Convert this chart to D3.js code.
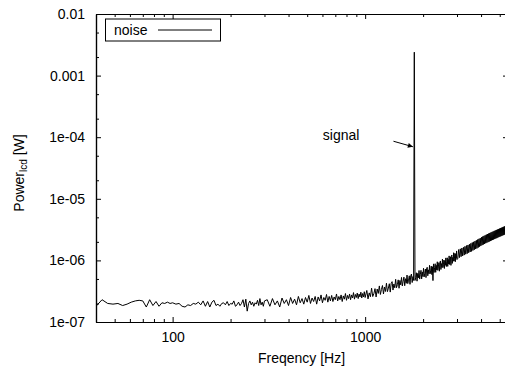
<!DOCTYPE html>
<html>
<head>
<meta charset="utf-8">
<script src="https://cdn.jsdelivr.net/npm/d3@7"></script>
<style>
  html, body { margin: 0; padding: 0; background: #fff; }
  svg { display: block; }
  text { font-family: "Liberation Sans", Arial, Helvetica, sans-serif; fill: #000; }
</style>
</head>
<body>
<svg id="chart" width="505" height="371"></svg>
<script>
// ---------- data ----------
const xTickValues = [100, 1000];
const xTickLabels = ["100", "1000"];
const xMinorTicks = [50, 60, 70, 80, 90, 200, 300, 400, 500, 600, 700, 800, 900, 2000, 3000, 4000, 5000];
const yTickValues = [1e-7, 1e-6, 1e-5, 1e-4, 1e-3, 1e-2];
const yTickLabels = ["1e-07", "1e-06", "1e-05", "1e-04", "0.001", "0.01"];
const yMinorTicks = [2e-7, 5e-7, 2e-6, 5e-6, 2e-5, 5e-5, 2e-4, 5e-4, 2e-3, 5e-3];
const xDomain = [40, 5520];
const yDomain = [1e-7, 1e-2];

const seriesName = "noise";
const noiseFreq = [
  40, 43, 46, 49, 52, 55, 58, 61, 64, 67, 70, 73, 76, 79, 82, 85, 88, 91, 94, 97, 100,
  104, 108, 112, 116, 120, 124, 128, 132, 136, 140, 144, 148, 152, 156, 160, 164, 168, 172, 176, 180,
  184, 188, 192, 196, 200, 204, 208, 212, 216, 220, 224, 228, 232, 236, 240, 244, 248, 252, 256, 260,
  264, 268, 272, 276, 280, 284, 288, 292, 296, 300,
  310, 320, 330, 340, 350, 360, 370, 380, 390, 400, 410, 420, 430, 440, 450, 460, 470, 480, 490, 500,
  510, 520, 530, 540, 550, 560, 570, 580, 590, 600, 610, 620, 630, 640, 650, 660, 670, 680, 690, 700,
  710, 720, 730, 740, 750, 760, 770, 780, 790, 800, 810, 820, 830, 840, 850, 860, 870, 880, 890, 900,
  910, 920, 930, 940, 950, 960, 970, 980, 990, 1000,
  1020, 1035, 1050, 1065, 1080, 1095, 1110, 1125, 1140, 1155, 1170, 1185, 1200, 1215, 1230, 1245,
  1260, 1275, 1290, 1305, 1320, 1335, 1350, 1365, 1380, 1395, 1410, 1425, 1440, 1455, 1470, 1485,
  1500, 1515, 1530, 1545, 1560, 1575, 1590, 1605, 1620, 1635, 1650, 1665, 1680, 1695, 1710, 1725,
  1740, 1755, 1770, 1785, 1800, 1815, 1830, 1845, 1860, 1875, 1890, 1905, 1920, 1935, 1950, 1965,
  1980, 1995, 2010, 2025, 2040, 2055, 2070, 2085, 2100, 2115, 2130, 2145, 2160, 2175, 2190, 2205,
  2220, 2235, 2250, 2265, 2280, 2295, 2310, 2325, 2340, 2355, 2370, 2385, 2400, 2415, 2430, 2445,
  2460, 2475, 2490, 2505, 2520, 2535, 2550, 2565, 2580, 2595, 2610, 2625, 2640, 2655, 2670, 2685,
  2700, 2715, 2730, 2745, 2760, 2775, 2790, 2805, 2820, 2835, 2850, 2865, 2880, 2895, 2910, 2925,
  2940, 2955, 2970, 2985, 3000,
  3030, 3060, 3090, 3120, 3150, 3180, 3210, 3240, 3270, 3300, 3330, 3360, 3390,
  3420, 3450, 3480, 3510, 3540, 3570, 3600, 3630, 3660, 3690, 3720, 3750, 3780, 3810, 3840, 3870,
  3900, 3930, 3960, 3990, 4020, 4050, 4080, 4110, 4140, 4170, 4200, 4230, 4260, 4290, 4320, 4350,
  4380, 4410, 4440, 4470, 4500, 4530, 4560, 4590, 4620, 4650, 4680, 4710, 4740, 4770, 4800, 4830,
  4860, 4890, 4920, 4950, 4980, 5010, 5040, 5070, 5100, 5130, 5160, 5190, 5220, 5250, 5280, 5310,
  5340, 5370, 5400, 5430, 5460, 5490, 5520
];
const noisePower = [
  1.8e-7, 2.3e-7, 2.0e-7, 1.95e-7, 2.0e-7, 1.85e-7, 1.95e-7, 2.1e-7, 2.2e-7, 2.25e-7, 2.2e-7,
  1.75e-7, 2.3e-7, 1.85e-7, 2.15e-7, 1.8e-7, 2.05e-7, 2.0e-7, 2.1e-7, 2.0e-7, 2.05e-7,
  1.95e-7, 2.0e-7, 1.8e-7, 1.75e-7, 1.9e-7, 1.85e-7, 2.0e-7, 1.95e-7, 2.1e-7, 1.9e-7,
  2.2e-7, 1.8e-7, 2.15e-7, 1.75e-7, 2.1e-7, 2.25e-7, 1.85e-7, 1.95e-7, 1.8e-7, 2.0e-7,
  2.05e-7, 1.9e-7, 2.15e-7, 1.85e-7, 2.0e-7, 1.95e-7, 2.2e-7, 1.8e-7, 1.9e-7, 2.1e-7,
  1.85e-7, 2.0e-7, 2.3e-7, 1.75e-7, 2.35e-7, 1.5e-7, 2.0e-7, 2.2e-7, 1.9e-7, 2.1e-7,
  1.8e-7, 2.05e-7, 1.95e-7, 2.25e-7, 1.85e-7, 2.4e-7, 1.9e-7, 2.1e-7, 1.8e-7, 2.2e-7,
  2.3e-7, 1.8e-7, 2.4e-7, 1.9e-7, 2.2e-7, 1.75e-7, 2.45e-7, 2.0e-7, 2.3e-7, 1.85e-7,
  2.5e-7, 2.0e-7, 2.35e-7, 1.9e-7, 2.6e-7, 2.05e-7, 2.4e-7, 1.95e-7, 2.5e-7, 2.1e-7,
  2.7e-7, 2.0e-7, 2.45e-7, 2.15e-7, 2.6e-7, 1.95e-7, 2.55e-7, 2.2e-7, 2.75e-7, 2.05e-7,
  2.5e-7, 2.25e-7, 2.8e-7, 2.1e-7, 2.6e-7, 2.2e-7, 2.7e-7, 2.15e-7, 2.55e-7, 2.3e-7,
  2.85e-7, 2.2e-7, 2.6e-7, 2.3e-7, 2.75e-7, 2.15e-7, 2.65e-7, 2.35e-7, 2.9e-7, 2.25e-7,
  2.7e-7, 2.4e-7, 2.85e-7, 2.3e-7, 2.75e-7, 2.45e-7, 3.0e-7, 2.35e-7, 2.8e-7, 2.5e-7,
  2.95e-7, 2.4e-7, 2.85e-7, 2.55e-7, 3.05e-7, 2.45e-7, 2.9e-7, 2.55e-7, 3.1e-7, 2.5e-7,
  3.25e-7, 2.37e-7, 2.97e-7, 2.57e-7, 3.54e-7, 2.59e-7, 2.89e-7, 3.48e-7, 2.55e-7, 3.43e-7,
  2.91e-7, 3.85e-7, 2.8e-7, 3.37e-7, 3.91e-7, 2.85e-7, 3.7e-7, 3.13e-7, 4.26e-7, 3.11e-7,
  3.55e-7, 4.18e-7, 3.06e-7, 4.23e-7, 4.52e-7, 3.3e-7, 4.14e-7, 3.59e-7, 4.93e-7, 3.6e-7,
  4.03e-7, 4.83e-7, 3.53e-7, 4.73e-7, 4.01e-7, 5.29e-7, 3.84e-7, 4.6e-7, 5.35e-7, 3.88e-7,
  5.04e-7, 4.25e-7, 5.78e-7, 4.2e-7, 4.78e-7, 5.62e-7, 4.09e-7, 5.64e-7, 6.01e-7, 4.37e-7,
  5.46e-7, 4.73e-7, 2.4e-3, 4.72e-7, 5.26e-7, 6.3e-7, 4.6e-7, 6.16e-7, 5.21e-7, 6.86e-7,
  4.97e-7, 5.96e-7, 6.9e-7, 5.01e-7, 6.5e-7, 5.47e-7, 7.44e-7, 5.4e-7, 6.15e-7, 7.24e-7,
  5.26e-7, 7.26e-7, 7.73e-7, 5.63e-7, 7.02e-7, 6.08e-7, 8.32e-7, 6.06e-7, 6.75e-7, 8.07e-7,
  5.89e-7, 7.9e-7, 4.7e-7, 8.78e-7, 6.36e-7, 7.63e-7, 8.83e-7, 6.4e-7, 8.32e-7, 7.0e-7,
  9.5e-7, 6.89e-7, 7.84e-7, 9.21e-7, 6.68e-7, 9.21e-7, 9.79e-7, 7.12e-7, 8.87e-7, 7.67e-7,
  1.049e-6, 7.64e-7, 8.49e-7, 1.014e-6, 7.39e-7, 9.88e-7, 8.34e-7, 1.098e-6, 7.95e-7, 9.52e-7,
  1.102e-6, 7.99e-7, 1.037e-6, 8.72e-7, 1.183e-6, 8.59e-7, 9.76e-7, 1.146e-6, 8.31e-7, 1.148e-6,
  1.225e-6, 8.94e-7, 1.118e-6, 9.71e-7, 1.332e-6, 9.73e-7, 1.085e-6, 1.303e-6, 9.51e-7, 1.276e-6,
  1.079e-6, 1.424e-6, 1.032e-6,
  1.08e-6, 1.5e-6, 1.11e-6,
  1.54e-6, 1.15e-6, 1.59e-6, 1.18e-6, 1.63e-6, 1.22e-6, 1.69e-6, 1.26e-6, 1.74e-6, 1.29e-6,
  1.78e-6, 1.33e-6, 1.83e-6, 1.37e-6, 1.89e-6, 1.4e-6, 1.95e-6, 1.45e-6, 2.0e-6, 1.49e-6,
  2.06e-6, 1.53e-6, 2.12e-6, 1.57e-6, 2.18e-6, 1.62e-6, 2.24e-6, 1.67e-6, 2.3e-6, 1.72e-6,
  2.38e-6, 1.77e-6, 2.44e-6, 1.81e-6, 2.5e-6, 1.85e-6, 2.56e-6, 1.9e-6, 2.62e-6, 1.94e-6,
  2.68e-6, 1.98e-6, 2.73e-6, 2.02e-6, 2.79e-6, 2.06e-6, 2.84e-6, 2.11e-6, 2.9e-6, 2.14e-6,
  2.95e-6, 2.18e-6, 3.01e-6, 2.23e-6, 3.06e-6, 2.27e-6, 3.12e-6, 2.3e-6, 3.17e-6, 2.35e-6,
  3.23e-6, 2.39e-6, 3.28e-6, 2.43e-6, 3.34e-6, 2.47e-6, 3.39e-6, 2.51e-6, 3.44e-6, 2.55e-6,
  3.5e-6, 2.58e-6, 3.56e-6, 2.63e-6, 3.6e-6, 2.66e-6, 3.65e-6, 2.69e-6, 3.69e-6, 2.71e-6,
  3.71e-6
];

const signalLabel = "signal";
const signalLabelPos = [603, 9.0e-5];
const signalArrowFrom = [1403, 8.6e-5];
const signalArrowTo = [1770, 7.0e-5];

const xTitle = "Freqency [Hz]";

// ---------- layout ----------
const svg = d3.select("#chart");
const mLeft = 96, mRight = 508, mTop = 14, mBottom = 322;
const x = d3.scaleLog().domain(xDomain).range([mLeft, mRight]);
const y = d3.scaleLog().domain(yDomain).range([mBottom, mTop]);
const FONT = 14;

const defs = svg.append("defs");
defs.append("clipPath").attr("id", "clip")
  .append("rect").attr("x", mLeft).attr("y", mTop).attr("width", mRight - mLeft).attr("height", mBottom - mTop);
defs.append("marker").attr("id", "arrowhead")
  .attr("viewBox", "0 0 10 10").attr("refX", 10).attr("refY", 5)
  .attr("markerWidth", 7).attr("markerHeight", 5).attr("markerUnits", "userSpaceOnUse")
  .attr("orient", "auto")
  .append("path").attr("d", "M0,0 L10,5 L0,10 z").attr("fill", "#000");

// axes: bottom / top
const gx = svg.append("g").attr("transform", `translate(0,${mBottom})`)
  .call(d3.axisBottom(x).tickValues(xTickValues).tickFormat((d, i) => xTickLabels[i])
    .tickSizeInner(-5).tickSizeOuter(0).tickPadding(10));
svg.append("g").attr("transform", `translate(0,${mBottom})`)
  .call(d3.axisBottom(x).tickValues(xMinorTicks).tickFormat("").tickSizeInner(-3).tickSizeOuter(0));
svg.append("g").attr("transform", `translate(0,${mTop})`)
  .call(d3.axisTop(x).tickValues(xTickValues).tickFormat("").tickSizeInner(-5).tickSizeOuter(0));
svg.append("g").attr("transform", `translate(0,${mTop})`)
  .call(d3.axisTop(x).tickValues(xMinorTicks).tickFormat("").tickSizeInner(-3).tickSizeOuter(0));

// axes: left / right
svg.append("g").attr("transform", `translate(${mLeft},0)`)
  .call(d3.axisLeft(y).tickValues(yTickValues).tickFormat((d, i) => yTickLabels[i])
    .tickSizeInner(-5).tickSizeOuter(0).tickPadding(11));
svg.append("g").attr("transform", `translate(${mLeft},0)`)
  .call(d3.axisLeft(y).tickValues(yMinorTicks).tickFormat("").tickSizeInner(-3).tickSizeOuter(0));
svg.append("g").attr("transform", `translate(${mRight},0)`)
  .call(d3.axisRight(y).tickValues(yTickValues).tickFormat("").tickSizeInner(-5).tickSizeOuter(0));
svg.append("g").attr("transform", `translate(${mRight},0)`)
  .call(d3.axisRight(y).tickValues(yMinorTicks).tickFormat("").tickSizeInner(-3).tickSizeOuter(0));

svg.selectAll(".domain").attr("stroke", "#000").attr("stroke-width", 1.2);
svg.selectAll(".tick line").attr("stroke", "#000").attr("stroke-width", 1);
svg.selectAll(".tick text").attr("font-size", FONT)
  .attr("font-family", '"Liberation Sans", Arial, sans-serif').attr("fill", "#000");
gx.selectAll(".tick text").attr("dy", "0.71em");

// data line
const pts = noiseFreq.map((f, i) => ({ f: f, p: noisePower[i] }));
svg.append("g").attr("clip-path", "url(#clip)")
  .append("path").datum(pts)
  .attr("fill", "none").attr("stroke", "#000").attr("stroke-width", 1)
  .attr("stroke-linejoin", "miter")
  .attr("d", d3.line().x(d => x(d.f)).y(d => y(d.p)));

// annotation
svg.append("text").attr("x", x(signalLabelPos[0])).attr("y", y(signalLabelPos[1]))
  .attr("font-size", FONT).text(signalLabel);
svg.append("line")
  .attr("x1", x(signalArrowFrom[0])).attr("y1", y(signalArrowFrom[1]))
  .attr("x2", x(signalArrowTo[0])).attr("y2", y(signalArrowTo[1]))
  .attr("stroke", "#000").attr("stroke-width", 1).attr("marker-end", "url(#arrowhead)");

// legend
const lg = svg.append("g");
lg.append("rect").attr("x", 105.5).attr("y", 19).attr("width", 115).attr("height", 22)
  .attr("fill", "#fff").attr("stroke", "#000").attr("stroke-width", 1);
lg.append("text").attr("x", 114).attr("y", 35).attr("font-size", FONT).text(seriesName);
lg.append("line").attr("x1", 158).attr("x2", 212).attr("y1", 30).attr("y2", 30)
  .attr("stroke", "#000").attr("stroke-width", 1);

// axis titles
svg.append("text").attr("x", 301.5).attr("y", 363).attr("text-anchor", "middle")
  .attr("font-size", FONT).text(xTitle);

const yt = svg.append("text").attr("transform", "translate(24,173) rotate(-90)")
  .attr("text-anchor", "middle").attr("font-size", FONT);
yt.append("tspan").text("Power");
yt.append("tspan").attr("font-size", 10).attr("dy", 3).text("lcd");
yt.append("tspan").attr("dy", -3).text(" [W]");
</script>
</body>
</html>
